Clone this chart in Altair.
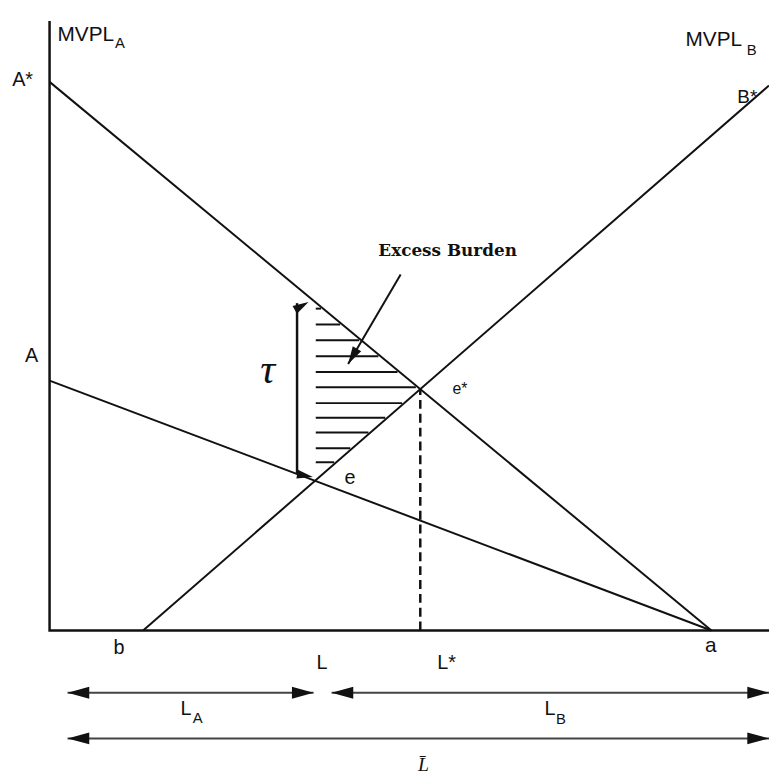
import altair as alt
import numpy as np
import pandas as pd

# ---- curve definitions (labour on x, value of marginal product on y) ----
curve_id = ["A*", "A*", "A", "A", "B", "B"]
curve_x = [0, 92, 0, 92, 13, 100]
curve_y = [90, 0, 41, 0, 0, 89.4]

axis_x = [0, 0, 100]
axis_y = [100, 0, 0]

# hatch levels of the excess-burden triangle
hatch_y = [52.8, 50.2, 47.6, 45.0, 42.4, 39.9, 37.3, 34.9, 32.5, 29.9, 27.6]
hatch_x0 = 37.0

# allocation arrows below the axis
span_name = ["L_A", "L_B", "Lbar"]
span_x0 = [2.5, 39.2, 2.5]
span_x1 = [36.7, 100, 100]
span_y = [-10.2, -10.2, -17.7]

# tax wedge arrow and "Excess Burden" pointer
tau_x = 34.4
tau_y = [25.8, 53.7]
pointer_x = [48.8, 41.5]
pointer_y = [58.4, 43.7]

# arrow heads: tip position and direction
head_x = [36.0, 36.6, 41.5, 2.5, 36.7, 39.2, 100, 2.5, 100]
head_y = [53.9, 25.2, 43.7, -10.2, -10.2, -10.2, -10.2, -17.7, -17.7]
head_angle = [60, 100, 210, 270, 90, 270, 90, 270, 90]
head_size = [260, 260, 320, 480, 480, 480, 480, 480, 480]

# sans labels
lab_text = ["MVPL", "A", "MVPL", "B", "A*", "A", "B*", "b", "L", "L*", "a",
            "L", "A", "L", "B", "e", "e*"]
lab_x = [1.1, 9.1, 88.4, 96.9, -5.2, -3.4, 95.6, 8.9, 37.1, 53.9, 91.1,
         18.2, 19.9, 68.8, 70.4, 41.0, 56.0]
lab_y = [96.75, 95.6, 95.9, 94.4, 89.3, 44.0, 86.5, -3.9, -6.3, -6.3, -3.6,
         -13.8, -15.1, -13.8, -15.3, 24.0, 38.8]
lab_size = [21, 15, 21, 15, 20, 20, 19, 20, 20, 20, 21,
            20, 15, 20, 15, 20, 16]

# ---- derived geometry ----
cx = dict(); cy = dict()
for cid, x, y in zip(curve_id, curve_x, curve_y):
    cx.setdefault(cid, []).append(x); cy.setdefault(cid, []).append(y)

def line_coef(cid):
    (x0, x1), (y0, y1) = cx[cid], cy[cid]
    m = (y1 - y0) / (x1 - x0)
    return m, y0 - m * x0

mAs, bAs = line_coef("A*")
mB, bB = line_coef("B")
es_x = (bB - bAs) / (mAs - mB)
es_y = mAs * es_x + bAs

hy = np.array(hatch_y)
right = np.minimum((hy - bAs) / mAs, (hy - bB) / mB) - 0.3
hatch_df = pd.DataFrame({"x": hatch_x0, "x2": right, "y": hy})

curves_df = pd.DataFrame({"id": curve_id, "x": curve_x, "y": curve_y,
                          "o": list(range(len(curve_x)))})
axes_df = pd.DataFrame({"x": axis_x, "y": axis_y, "o": [0, 1, 2]})
dash_df = pd.DataFrame({"x": [es_x], "y": [0], "y2": [es_y]})
span_df = pd.DataFrame({"name": span_name, "x": span_x0, "x2": span_x1, "y": span_y})
tau_df = pd.DataFrame({"x": [tau_x], "y": [tau_y[0]], "y2": [tau_y[1]]})
ptr_df = pd.DataFrame({"x": [pointer_x[0]], "x2": [pointer_x[1]],
                       "y": [pointer_y[0]], "y2": [pointer_y[1]]})
head_df = pd.DataFrame({"x": head_x, "y": head_y, "angle": head_angle, "size": head_size})
lab_df = pd.DataFrame({"t": lab_text, "x": lab_x, "y": lab_y, "s": lab_size})

X = alt.Scale(domain=[0, 100], nice=False, zero=False)
Y = alt.Scale(domain=[0, 100], nice=False, zero=False)
ink = "#111111"

def xe(f="x"):
    return alt.X(f"{f}:Q", scale=X, axis=None)

def ye(f="y"):
    return alt.Y(f"{f}:Q", scale=Y, axis=None)

axes_layer = alt.Chart(axes_df).mark_line(color=ink, strokeWidth=2.5).encode(
    x=xe(), y=ye(), order="o:Q")
curves_layer = alt.Chart(curves_df).mark_line(color=ink, strokeWidth=2).encode(
    x=xe(), y=ye(), detail="id:N", order="o:Q")
hatch_layer = alt.Chart(hatch_df).mark_rule(color=ink, strokeWidth=2).encode(
    x=xe(), x2="x2:Q", y=ye())
dash_layer = alt.Chart(dash_df).mark_rule(color=ink, strokeWidth=2.5, strokeDash=[9, 5]).encode(
    x=xe(), y=ye(), y2="y2:Q")
span_layer = alt.Chart(span_df).mark_rule(color="#444444", strokeWidth=2).encode(
    x=xe(), x2="x2:Q", y=ye())
tau_layer = alt.Chart(tau_df).mark_rule(color=ink, strokeWidth=2.5).encode(
    x=xe(), y=ye(), y2="y2:Q")
ptr_layer = alt.Chart(ptr_df).mark_rule(color=ink, strokeWidth=2).encode(
    x=xe(), x2="x2:Q", y=ye(), y2="y2:Q")
head_layer = alt.Chart(head_df).mark_point(
    shape="M0,0L-0.55,2L0.55,2Z", filled=True, color=ink, opacity=1, strokeWidth=0).encode(
    x=xe(), y=ye(), angle=alt.Angle("angle:Q", scale=None), size=alt.Size("size:Q", scale=None))

label_layer = alt.Chart(lab_df).mark_text(
    font="Liberation Sans", align="left", baseline="alphabetic", color=ink).encode(
    x=xe(), y=ye(), text="t:N", size=alt.Size("s:Q", scale=None))

tau_text = alt.Chart(pd.DataFrame({"t": ["τ"], "x": [29.3], "y": [40.6]})).mark_text(
    font="Liberation Serif", fontStyle="italic", fontSize=42, align="left",
    baseline="alphabetic", color=ink).encode(x=xe(), y=ye(), text="t:N")
eb_text = alt.Chart(pd.DataFrame({"t": ["Excess Burden"], "x": [45.7], "y": [61.5]})).mark_text(
    font="DejaVu Serif", fontWeight="bold", fontSize=17, align="left",
    baseline="alphabetic", color=ink).encode(x=xe(), y=ye(), text="t:N")
lbar_text = alt.Chart(pd.DataFrame({"t": ["L\u0304"], "x": [51.2], "y": [-23.0]})).mark_text(
    font="Liberation Serif", fontStyle="italic", fontSize=20, align="left",
    baseline="alphabetic", color=ink).encode(x=xe(), y=ye(), text="t:N")

chart = alt.layer(
    hatch_layer, axes_layer, curves_layer, dash_layer, span_layer, tau_layer,
    ptr_layer, head_layer, label_layer, tau_text, eb_text, lbar_text
).properties(
    width=727, height=616,
    autosize=alt.AutoSizeParams(type="none"),
    padding={"left": 42, "top": 9, "right": 0, "bottom": 145},
    background="white",
).configure_view(stroke=None)

chart.save("out.html", embed_options={"renderer": "svg", "actions": False})
